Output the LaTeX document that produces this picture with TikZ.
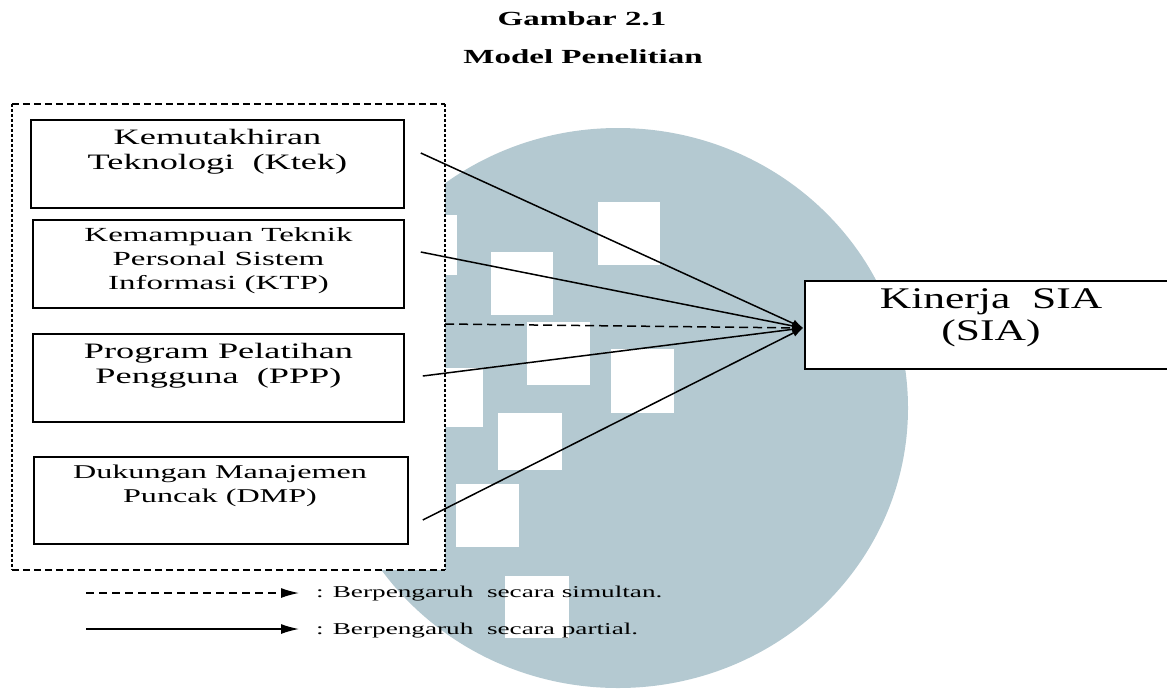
\documentclass[tikz,border=0pt]{standalone}
\usepackage{fontspec}
\setmainfont{Liberation Serif}[FakeStretch=1.65]
\newfontfamily\siafont{Liberation Serif}[FakeStretch=1.45]
\usetikzlibrary{arrows.meta}
\definecolor{wm}{RGB}{180,201,209}
\newcommand\mystrut{\rule{0pt}{0.8em}}
\begin{document}
\begin{tikzpicture}[x=1pt,y=-1pt,
  box/.style={draw, line width=1.6pt, fill=white, inner sep=0pt},
  txt/.style={anchor=north, inner sep=0pt, align=center},
  arr/.style={line width=1.5pt, -{Latex[length=11pt,width=8pt]}},
  legarr/.style={line width=1.4pt, -{Latex[length=18pt,width=10pt]}},
  wmsq/.style={fill=white},
]
\useasboundingbox (0,0) rectangle (1167,689);
% watermark
\fill[wm] (618,408) ellipse [x radius=290, y radius=280];
\foreach \a/\b/\c/\d in {598/202/660/265, 491/252/553/315, 527/322/590/385, 611/349/674/413, 420/368/483/427, 498/413/562/470, 456/484/519/547, 505/576/569/638, 395/215/457/275}
  \fill[wmsq] (\a,\b) rectangle (\c,\d);

% title
\node[anchor=base, inner sep=0pt, font=\fontsize{20}{24}\selectfont\bfseries] (t1) at (582,25) {Gambar 2.1};
\node[anchor=base, inner sep=0pt, font=\fontsize{20}{24}\selectfont\bfseries] (t2) at (583,63) {Model Penelitian};

% group box
\node[fill=white, inner sep=0pt, minimum width=433, minimum height=466] (grp) at (228.5,337) {};
\draw[line width=1.5pt, dash pattern=on 7pt off 4pt] (grp.north west) -- (grp.north east);
\draw[line width=1.5pt, dash pattern=on 7pt off 4pt] (grp.south west) -- (grp.south east);
\draw[line width=1.5pt, dash pattern=on 3pt off 2pt] (grp.north west) -- (grp.south west);
\draw[line width=1.5pt, dash pattern=on 3pt off 2pt] (grp.north east) -- (grp.south east);

% boxes
\node[box, minimum width=373, minimum height=88] (ktek) at (217.5,164) {};
\node[box, minimum width=371, minimum height=88] (ktp) at (218.5,264) {};
\node[box, minimum width=371, minimum height=88] (ppp) at (218.5,378) {};
\node[box, minimum width=374, minimum height=87] (dmp) at (221,500.5) {};
\node[box, minimum width=372, minimum height=88] (sia) at (991,325) {};

\node[txt, font=\fontsize{22}{25}\selectfont] (ktekt) at (217.5,126.4) {\mystrut Kemutakhiran\\Teknologi\ \ (Ktek)};
\node[txt, font=\fontsize{20}{24}\selectfont] (ktpt) at (218.5,225) {\mystrut Kemampuan Teknik\\Personal Sistem\\Informasi (KTP)};
\node[txt, font=\fontsize{22}{25}\selectfont] (pppt) at (218.5,340.4) {\mystrut Program Pelatihan\\Pengguna\ \ (PPP)};
\node[txt, font=\fontsize{19.5}{24}\selectfont] (dmpt) at (220,462.4) {\mystrut Dukungan Manajemen\\Puncak (DMP)};
\node[txt, font=\fontsize{30}{32}\selectfont\siafont] (siat) at (991,284) {\mystrut Kinerja\ \ SIA\\(SIA)};

% connectors
\coordinate (hub) at ([shift={(-1,3)}]sia.west);
\draw[arr] ([shift={(16,-11)}]ktek.east) -- (hub);
\draw[arr] ([shift={(16,-12)}]ktp.east) -- (hub);
\draw[arr] ([shift={(18,-2)}]ppp.east) -- (hub);
\draw[arr] ([shift={(14,19.5)}]dmp.east) -- (hub);
\draw[arr, dash pattern=on 9pt off 5pt] ([shift={(0,-13)}]grp.east) -- (hub);

% legend
\coordinate (l1a) at (86,593);
\coordinate (l1b) at (299,593);
\coordinate (l2a) at (86,629);
\coordinate (l2b) at (299,629);
\draw[legarr, dash pattern=on 8pt off 5pt] (l1a) -- (l1b);
\draw[legarr] (l2a) -- (l2b);
\node[anchor=base west, inner sep=0pt, font=\fontsize{16.5}{19}\selectfont] (leg1) at (316,597) {: Berpengaruh\ \ secara simultan.};
\node[anchor=base west, inner sep=0pt, font=\fontsize{16.5}{19}\selectfont] (leg2) at (316,634) {: Berpengaruh\ \ secara partial.};
\end{tikzpicture}
\end{document}
